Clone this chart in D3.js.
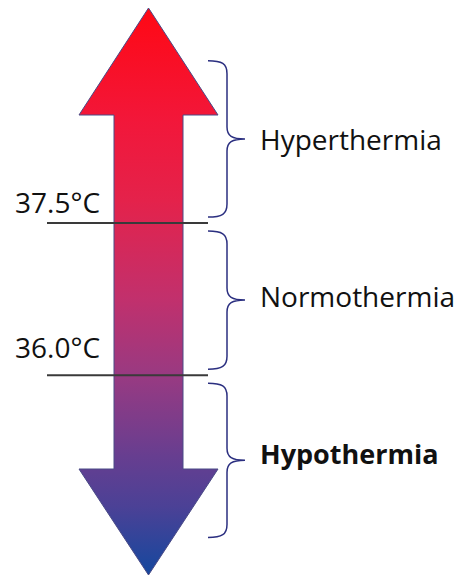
<!DOCTYPE html>
<html>
<head>
<meta charset="utf-8">
<script src="https://cdn.jsdelivr.net/npm/d3@7"></script>
<style>
  body { margin: 0; background: #fff; }
  svg { display: block; }
</style>
</head>
<body>
<div id="chart"></div>
<script>
// temperature thresholds (°C) and their labels
let thresholds = [37.5, 36.0]
let thresholdLabels = ['37.5°C', '36.0°C']

// ranges and their names
let bandNames = ['Hyperthermia', 'Normothermia', 'Hypothermia']
let bandTop = [39.1, 37.5, 36.0]
let bandBottom = [37.5, 36.0, 34.4]
let bandBold = [false, false, true]

// ends of the double arrow
let arrowDomain = [34.03, 39.62]

let width = 464
let height = 577

let svg = d3
  .select('#chart')
  .append('svg')
  .attr('width', width)
  .attr('height', height)

let yPositionScale = d3.scaleLinear().domain(arrowDomain).range([575, 8])

let cx = 148.5
let headHalf = 69.5
let shaftHalf = 34.5
let headLen = 107

let arrowTop = yPositionScale(arrowDomain[1])
let arrowBottom = yPositionScale(arrowDomain[0])

// gradient red -> blue
let grad = svg
  .append('defs')
  .append('linearGradient')
  .attr('id', 'arrowGrad')
  .attr('gradientUnits', 'userSpaceOnUse')
  .attr('x1', 0)
  .attr('x2', 0)
  .attr('y1', arrowTop)
  .attr('y2', arrowBottom)

let stops = [
  [0, '#ff0814'],
  [0.2, '#f2173a'],
  [0.34, '#e4224b'],
  [0.51, '#c2306c'],
  [0.65, '#983a82'],
  [0.79, '#673e90'],
  [0.88, '#4b4196'],
  [1, '#15489e']
]
grad
  .selectAll('stop')
  .data(stops)
  .enter()
  .append('stop')
  .attr('offset', d => d[0])
  .attr('stop-color', d => d[1])

let arrowPath = d3.path()
arrowPath.moveTo(cx, arrowTop)
arrowPath.lineTo(cx + headHalf, arrowTop + headLen)
arrowPath.lineTo(cx + shaftHalf, arrowTop + headLen)
arrowPath.lineTo(cx + shaftHalf, arrowBottom - headLen + 1)
arrowPath.lineTo(cx + headHalf, arrowBottom - headLen + 1)
arrowPath.lineTo(cx, arrowBottom)
arrowPath.lineTo(cx - headHalf, arrowBottom - headLen + 1)
arrowPath.lineTo(cx - shaftHalf, arrowBottom - headLen + 1)
arrowPath.lineTo(cx - shaftHalf, arrowTop + headLen)
arrowPath.lineTo(cx - headHalf, arrowTop + headLen)
arrowPath.closePath()

svg
  .append('path')
  .attr('d', arrowPath.toString())
  .attr('fill', 'url(#arrowGrad)')
  .attr('stroke', '#4a4a86')
  .attr('stroke-width', 1)
  .attr('stroke-linejoin', 'miter')

// threshold lines
svg
  .selectAll('.threshold')
  .data(thresholds)
  .enter()
  .append('line')
  .attr('class', 'threshold')
  .attr('x1', 47)
  .attr('x2', 208)
  .attr('y1', d => yPositionScale(d))
  .attr('y2', d => yPositionScale(d))
  .attr('stroke', '#3a3a3a')
  .attr('stroke-width', 2)

let labelDy = [-10, -17]
svg
  .selectAll('.t-label')
  .data(thresholds)
  .enter()
  .append('text')
  .attr('class', 't-label')
  .attr('x', 15)
  .attr('y', (d, i) => yPositionScale(d) + labelDy[i])
  .text((d, i) => thresholdLabels[i])
  .attr('font-family', '"Open Sans", sans-serif')
  .attr('font-size', 28)
  .attr('fill', '#111')

// curly braces
function brace(y0, y1) {
  let x0 = 208
  let x1 = 227
  let xt = 245
  let mid = (y0 + y1) / 2
  return (
    'M' + x0 + ',' + y0 +
    ' C' + (x0 + 14) + ',' + y0 + ' ' + x1 + ',' + (y0 + 3) + ' ' + x1 + ',' + (y0 + 13) +
    ' L' + x1 + ',' + (mid - 12) +
    ' C' + x1 + ',' + (mid - 3) + ' ' + (x1 + 5) + ',' + mid + ' ' + xt + ',' + mid +
    ' C' + (x1 + 5) + ',' + mid + ' ' + x1 + ',' + (mid + 3) + ' ' + x1 + ',' + (mid + 12) +
    ' L' + x1 + ',' + (y1 - 13) +
    ' C' + x1 + ',' + (y1 - 3) + ' ' + (x0 + 14) + ',' + y1 + ' ' + x0 + ',' + y1
  )
}

let inset = 6
svg
  .selectAll('.brace')
  .data(bandNames)
  .enter()
  .append('path')
  .attr('class', 'brace')
  .attr('d', (d, i) => {
    let y0 = yPositionScale(bandTop[i])
    let y1 = yPositionScale(bandBottom[i])
    if (i > 0) y0 += inset + 2
    if (i < bandNames.length - 1) y1 -= inset
    return brace(y0, y1)
  })
  .attr('fill', 'none')
  .attr('stroke', '#2b2f80')
  .attr('stroke-width', 1.5)

svg
  .selectAll('.band-label')
  .data(bandNames)
  .enter()
  .append('text')
  .attr('class', 'band-label')
  .attr('x', 260)
  .attr('y', (d, i) => {
    let y0 = yPositionScale(bandTop[i])
    let y1 = yPositionScale(bandBottom[i])
    return (y0 + y1) / 2 + 8
  })
  .text(d => d)
  .attr('font-family', '"Open Sans", sans-serif')
  .attr('font-size', (d, i) => (bandBold[i] ? 27 : 28))
  .attr('font-weight', (d, i) => (bandBold[i] ? 'bold' : 'normal'))
  .attr('fill', '#111')
</script>
</body>
</html>
